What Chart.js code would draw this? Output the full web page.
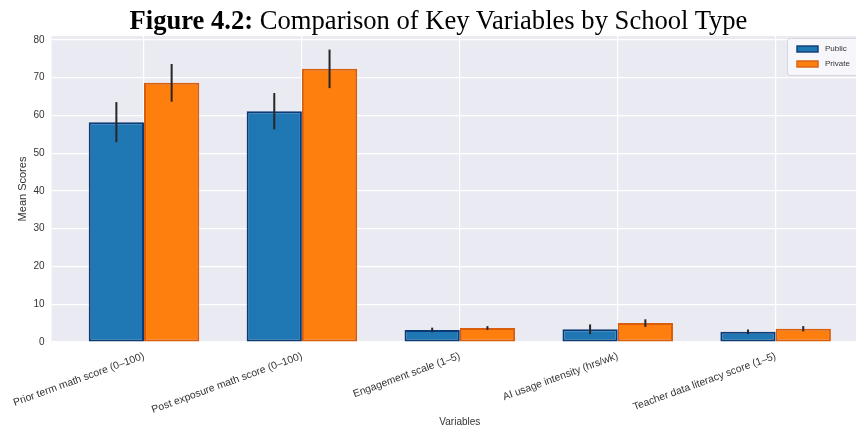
<!DOCTYPE html>
<html>
<head>
<meta charset="utf-8">
<script src="https://cdn.jsdelivr.net/npm/chart.js@4.4.0/dist/chart.umd.min.js"></script>
<style>
  html, body { margin: 0; padding: 0; width: 856px; height: 425px; overflow: hidden; background: #ffffff; }
  #wrap { position: absolute; left: 0; top: 0; width: 880px; height: 430px; }
  #title {
    position: absolute; top: 5px; left: 0; width: 877px; text-align: center;
    font-family: "Liberation Serif", "Times New Roman", serif; font-size: 26.6px;
    line-height: 30px; color: #000; white-space: nowrap; z-index: 2;
  }
</style>
</head>
<body>
<div id="title"><b>Figure 4.2:</b> Comparison of Key Variables by School Type</div>
<div id="wrap"><canvas id="chart" width="880" height="430" style="width:880px;height:430px"></canvas></div>
<script>
// Variables compared across school types
const categories = [
  "Prior term math score (0\u2013100)",
  "Post exposure math score (0\u2013100)",
  "Engagement scale (1\u20135)",
  "AI usage intensity (hrs/wk)",
  "Teacher data literacy score (1\u20135)"
];
const seriesNames = ["Public", "Private"];
const publicMeans  = [58.2, 61.1, 3.2, 3.35, 2.7];
const privateMeans = [68.6, 72.3, 3.7, 5.0, 3.5];
const publicErr    = [5.3, 4.8, 0.6, 1.3, 0.6];
const privateErr   = [5.0, 5.1, 0.5, 1.0, 0.7];
const yTicks = [0, 10, 20, 30, 40, 50, 60, 70, 80];

const FONT = "'Liberation Sans', Arial, sans-serif";
const TEXT = "#333333";

// Light grey plotting panel behind the grid
const panelBackground = {
  id: "panelBackground",
  beforeDraw(chart) {
    const { ctx, chartArea: a } = chart;
    ctx.save();
    ctx.fillStyle = "#EAEAF2";
    ctx.fillRect(a.left, a.top, a.right - a.left, a.bottom - a.top);
    ctx.restore();
  }
};

// Vertical error bars (mean ± error) centred on each bar
const errorBars = {
  id: "errorBars",
  afterDatasetsDraw(chart) {
    const { ctx } = chart;
    const y = chart.scales.y;
    ctx.save();
    ctx.strokeStyle = "#262626";
    ctx.lineWidth = 2;
    chart.data.datasets.forEach((ds, di) => {
      const meta = chart.getDatasetMeta(di);
      meta.data.forEach((bar, i) => {
        const v = ds.data[i].y, e = ds.errors[i];
        ctx.beginPath();
        ctx.moveTo(bar.x, y.getPixelForValue(v - e));
        ctx.lineTo(bar.x, y.getPixelForValue(v + e));
        ctx.stroke();
      });
    });
    ctx.restore();
  }
};

// Legend box in the upper-right corner of the panel
const cornerLegend = {
  id: "cornerLegend",
  afterDraw(chart) {
    const { ctx, chartArea: a } = chart;
    const left = a.right - 81, top = a.top + 2, w = 77, h = 37;
    ctx.save();
    ctx.fillStyle = "rgba(248,248,251,0.95)";
    ctx.strokeStyle = "#d6d6de";
    ctx.lineWidth = 1;
    ctx.beginPath();
    ctx.roundRect(left + 0.5, top + 0.5, w, h, 3);
    ctx.fill();
    ctx.stroke();
    ctx.font = "8px " + FONT;
    ctx.textBaseline = "middle";
    chart.data.datasets.forEach((ds, i) => {
      const cy = top + 11 + i * 15;
      ctx.fillStyle = ds.backgroundColor;
      ctx.fillRect(left + 10, cy - 3, 21, 6);
      ctx.strokeStyle = ds.borderColor;
      ctx.lineWidth = 1.4;
      ctx.strokeRect(left + 10, cy - 3, 21, 6);
      ctx.fillStyle = TEXT;
      ctx.fillText(ds.label, left + 38, cy);
    });
    ctx.restore();
  }
};

const toPoints = arr => arr.map((v, i) => ({ x: i, y: v }));

new Chart(document.getElementById("chart"), {
  type: "bar",
  data: {
    datasets: [
      {
        label: seriesNames[0],
        data: toPoints(publicMeans),
        errors: publicErr,
        backgroundColor: "#1f77b4",
        borderColor: "#0c3a76",
        borderWidth: 2,
        borderSkipped: false,
        categoryPercentage: 0.7,
        barPercentage: 1.0
      },
      {
        label: seriesNames[1],
        data: toPoints(privateMeans),
        errors: privateErr,
        backgroundColor: "#ff7f0e",
        borderColor: "#d95d0b",
        borderWidth: 2,
        borderSkipped: false,
        categoryPercentage: 0.7,
        barPercentage: 1.0
      }
    ]
  },
  options: {
    responsive: false,
    animation: false,
    events: [],
    layout: { padding: { top: 36, right: 12, left: 0, bottom: 0 } },
    plugins: {
      legend: { display: false },
      tooltip: { enabled: false },
      title: { display: false }
    },
    scales: {
      x: {
        type: "linear",
        offset: false,
        min: -0.585,
        max: 4.585,
        afterBuildTicks: s => { s.ticks = categories.map((c, i) => ({ value: i })); },
        afterFit: s => { s.height = 88; },
        grid: { color: "#ffffff", lineWidth: 1.2, drawTicks: false, offset: false },
        border: { display: false },
        ticks: {
          autoSkip: false,
          minRotation: 20,
          maxRotation: 20,
          padding: 8,
          color: TEXT,
          font: { family: FONT, size: 10.4 },
          callback: v => categories[v]
        },
        title: {
          display: true,
          text: "Variables",
          color: TEXT,
          font: { family: FONT, size: 10 },
          padding: { top: 2, bottom: 2 }
        }
      },
      y: {
        min: 0,
        max: 81,
        afterBuildTicks: s => { s.ticks = yTicks.map(v => ({ value: v })); },
        afterFit: s => { s.width = 51; },
        grid: { color: "#ffffff", lineWidth: 1.2, drawTicks: false },
        border: { display: false },
        ticks: {
          padding: 7,
          color: TEXT,
          font: { family: FONT, size: 10 }
        },
        title: {
          display: true,
          text: "Mean Scores",
          color: TEXT,
          font: { family: FONT, size: 11 },
          padding: { top: 16, bottom: 2 }
        }
      }
    }
  },
  plugins: [panelBackground, errorBars, cornerLegend]
});
</script>
</body>
</html>
